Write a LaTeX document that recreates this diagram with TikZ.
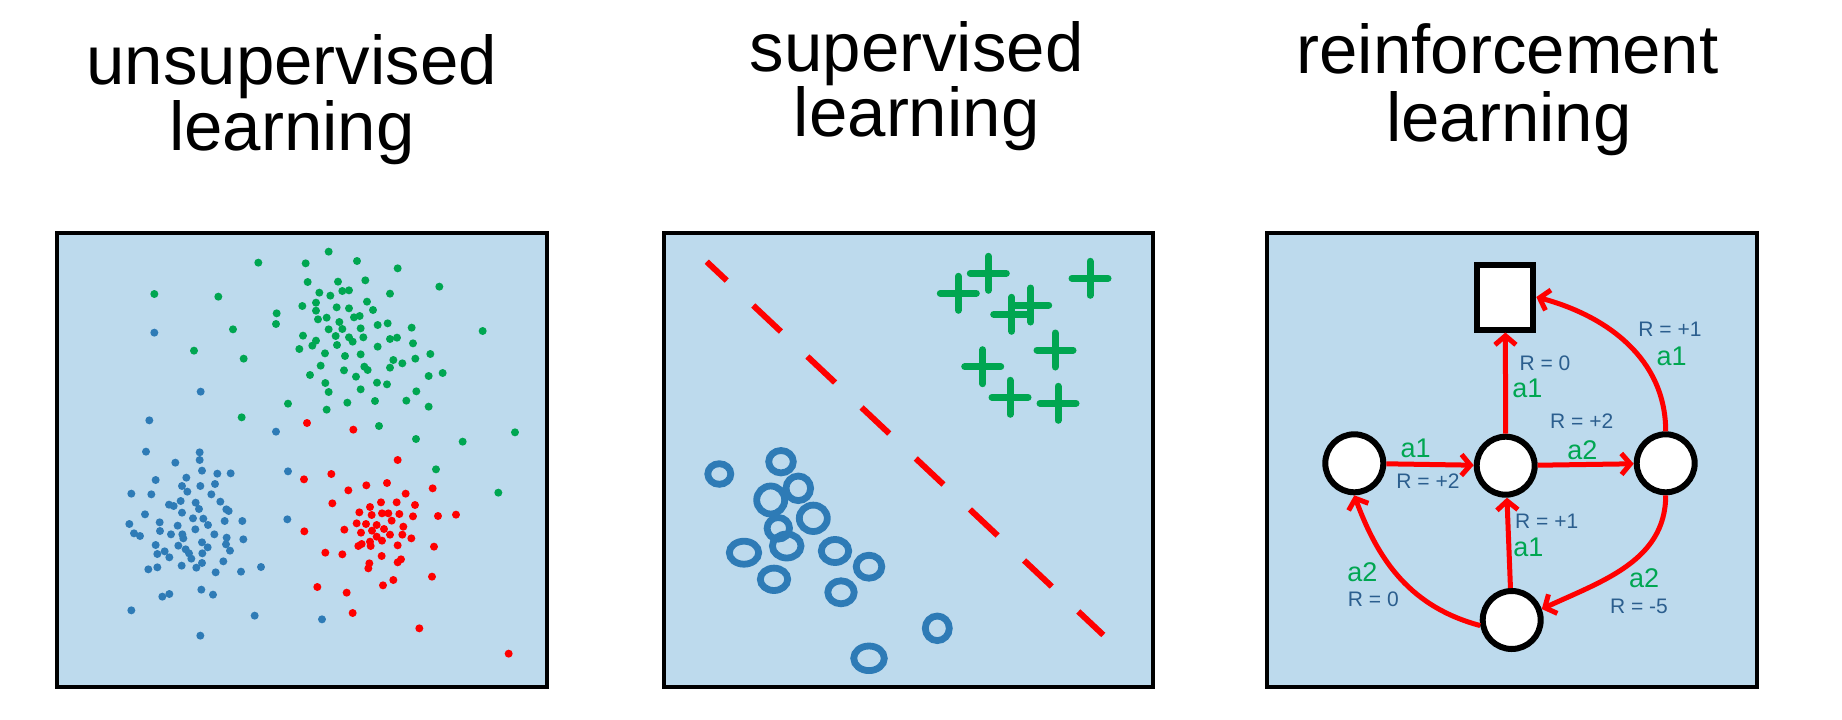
\documentclass[tikz,border=0pt]{standalone}
\usepackage{fontspec}
\setmainfont{Liberation Sans}
\usepackage{xcolor}
\definecolor{vizPanel}{HTML}{BDDAED}
\definecolor{vizBlue}{HTML}{2E7BB6}
\definecolor{vizGreen}{HTML}{00A651}
\definecolor{vizRed}{HTML}{FF0000}
\definecolor{vizText}{HTML}{2B5E8E}
\usetikzlibrary{arrows.meta}

\begin{document}
\begin{tikzpicture}[x=1pt, y=-1pt,
  panel/.style={fill=vizPanel, draw=black, line width=4.8pt},
  title/.style={anchor=base, inner sep=0pt, font=\fontsize{69}{80}\selectfont},
  plusmark/.style={draw=vizGreen, line width=7pt, line cap=round},
  ringmark/.style={draw=vizBlue, line width=6.8pt},
  sepline/.style={draw=vizRed, line width=6pt, dash pattern=on 38pt off 36.4pt, dash phase=10.5pt},
  state/.style={circle, draw=black, fill=white, line width=6pt, minimum size=58pt, inner sep=0pt},
  terminal/.style={rectangle, draw=black, fill=white, line width=6pt, minimum width=56pt, minimum height=65pt, inner sep=0pt},
  act/.style={draw=vizRed, line width=5pt, -{Straight Barb[length=9pt,width=21pt]}},
  rlab/.style={text=vizText, inner sep=0pt, font=\fontsize{21}{24}\selectfont},
  alab/.style={text=vizGreen, inner sep=0pt, font=\fontsize{27}{30}\selectfont}]
  \useasboundingbox (0,0) rectangle (1842,720);

  % titles
  \node[title] (t1a) at (291.7,84) {unsupervised};
  \node[title] (t1b) at (292,150) {learning};
  \node[title] (t2a) at (916.7,71.7) {supervised};
  \node[title] (t2b) at (916.7,136) {learning};
  \node[title] (t3a) at (1507.5,73.3) {reinforcement};
  \node[title] (t3b) at (1509,141.7) {learning};

  % panels
  \filldraw[panel] (57,233) rectangle (547,687);
  \filldraw[panel] (664,233) rectangle (1153,687);
  \filldraw[panel] (1267,233) rectangle (1757,687);

  % unsupervised: clusters of points
  \begin{scope}[shift={(50,220)}, x=0.33333pt, y=-0.33333pt]
    \foreach \px/\py in {313/222, 625/128, 505/230, 767/130, 836/95, 921/123, 1043/145, 1168/200, 773/186, 864/185, 946/181, 808/218, 841/227, 877/213, 897/211, 1020/221, 951/245, 798/248, 757/258, 860/262, 897/265, 969/270, 680/280, 678/312, 798/272, 804/298, 830/293, 868/306, 912/292, 929/288, 983/315, 1013/310, 1085/323, 1298/333, 549/328, 836/328, 877/327, 932/325, 759/347, 798/362, 857/348, 897/352, 940/352, 1020/357, 1041/353, 1089/370, 432/392, 748/387, 787/377, 861/375, 908/365, 983/380, 825/400, 885/408, 932/403, 1030/420, 1057/430, 1141/402, 1096/416, 581/416, 812/437, 882/451, 943/440, 953/450, 1020/443, 780/465, 918/470, 1136/468, 1178/459, 826/489, 981/488, 1011/493, 836/516, 932/508, 1099/514, 714/551, 892/548, 975/543, 1069/542, 1136/560, 830/569, 575/592, 987/618, 1098/657, 1238/665, 1395/637, 1158/748, 1345/818}
      \fill[vizGreen] (\px,\py) circle[radius=4pt];
    \foreach \px/\py in {313/338, 452/515, 298/601, 678/635, 288/695, 449/697, 449/720, 376/728, 714/754, 456/752, 502/761, 542/760, 317/780, 409/773, 396/798, 451/798, 495/792, 244/821, 304/823, 412/815, 484/823, 392/843, 437/848, 511/845, 357/854, 371/858, 447/867, 529/868, 536/873, 396/878, 285/883, 524/903, 577/903, 712/898, 238/912, 329/907, 429/895, 460/896, 383/917, 474/915, 330/933, 436/928, 252/940, 270/948, 363/943, 397/943, 493/943, 400/955, 530/953, 580/958, 317/975, 385/977, 456/967, 528/973, 407/988, 473/982, 344/994, 322/1002, 417/1000, 457/1000, 540/992, 358/1012, 424/1016, 520/1024, 456/1029, 439/1043, 395/1037, 322/1042, 295/1048, 497/1057, 573/1055, 633/1041, 454/1109, 489/1124, 337/1130, 358/1122, 244/1171, 614/1187, 816/1198, 451/1247}
      \fill[vizBlue] (\px,\py) circle[radius=4pt];
    \foreach \px/\py in {771/609, 910/629, 1043/720, 762/778, 844/762, 949/796, 1011/789, 895/811, 1067/821, 1148/805, 847/850, 960/861, 993/847, 1040/847, 1095/855, 928/877, 965/885, 996/880, 1015/880, 1048/882, 1089/889, 1164/888, 1218/884, 920/910, 948/912, 980/915, 1025/902, 1060/920, 763/934, 883/929, 933/938, 966/932, 1002/927, 1020/944, 1057/944, 980/950, 1084/955, 960/965, 996/962, 1043/976, 925/978, 935/972, 962/978, 1152/980, 826/998, 877/1003, 995/1008, 1043/1027, 1053/1018, 958/1030, 955/1045, 1146/1070, 1030/1080, 999/1096, 802/1101, 890/1118, 908/1179, 1108/1225, 1376/1301}
      \fill[vizRed] (\px,\py) circle[radius=4pt];
  \end{scope}

  % supervised: separating line, pluses and rings
  \coordinate (sepA) at (706.7,261.7);
  \coordinate (sepB) at (1103.3,635);
  \draw[sepline] (sepA) -- (sepB);
  \foreach \cx/\cy in {958.3/293.3, 988.3/273.3, 1011.7/314.3, 1030.7/305, 1090/278.3, 1055/350, 982.7/366.7, 1010/397.3, 1058/403.3}
    \draw[plusmark] (\cx-18,\cy) -- (\cx+18,\cy) (\cx,\cy-17) -- (\cx,\cy+17);
  \foreach \cx/\cy/\rx/\ry in {719.3/474/11.5/10.3, 781/461.7/12.3/11.2, 798.3/488.3/12.3/12.3, 770.7/500/14/14, 813.3/518.3/14/13.2, 778.3/528.3/11.2/10.8, 786.7/546/14.3/12, 744/552.7/14.7/11.5, 835/551/13.7/11.5, 869/566.7/12.8/11.5, 774/579.3/13.7/11.2, 841/592.3/13.2/11.5, 937.3/628.3/12/12.3, 869/658.3/15.3/12.3}
    \draw[ringmark] (\cx,\cy) ellipse[x radius=\rx pt, y radius=\ry pt];

  % reinforcement: states and actions
  \node[terminal] (goal) at (1505.3,297) {};
  \node[state] (s1) at (1354.3,463.3) {};
  \node[state] (s2) at (1505.7,465.7) {};
  \node[state] (s3) at (1665.7,463.3) {};
  \node[state] (s4) at (1511.7,620) {};

  \draw[act] (s1) -- (s2);
  \draw[act] (s2) -- (s3);
  \draw[act] (s2) -- (goal);
  \draw[act] (s4) -- (s2);
  \draw[act] (s3.north) to[out=90, in=-15] (goal.east);
  \draw[act] (s3.south) to[out=-90, in=25] (s4.20);
  \draw[act] (s4.190) to[out=165, in=-70] (s1.south);

  \node[alab] (l12a) at (1415.7,448.3) {a1};
  \node[rlab] (l12r) at (1428,481.3) {R = +2};
  \node[rlab] (l23r) at (1581.7,421) {R = +2};
  \node[alab] (l23a) at (1582.3,450) {a2};
  \node[rlab] (l2gr) at (1545,363.7) {R = 0};
  \node[alab] (l2ga) at (1527.3,388.3) {a1};
  \node[rlab] (l3gr) at (1670,329.3) {R = +1};
  \node[alab] (l3ga) at (1671.7,356.7) {a1};
  \node[rlab] (l42r) at (1546.7,521.7) {R = +1};
  \node[alab] (l42a) at (1528.3,547.3) {a1};
  \node[alab] (l34a) at (1644,578.3) {a2};
  \node[rlab] (l34r) at (1639,606.7) {R = -5};
  \node[alab] (l41a) at (1362.3,571.7) {a2};
  \node[rlab] (l41r) at (1373.3,599) {R = 0};
\end{tikzpicture}
\end{document}
